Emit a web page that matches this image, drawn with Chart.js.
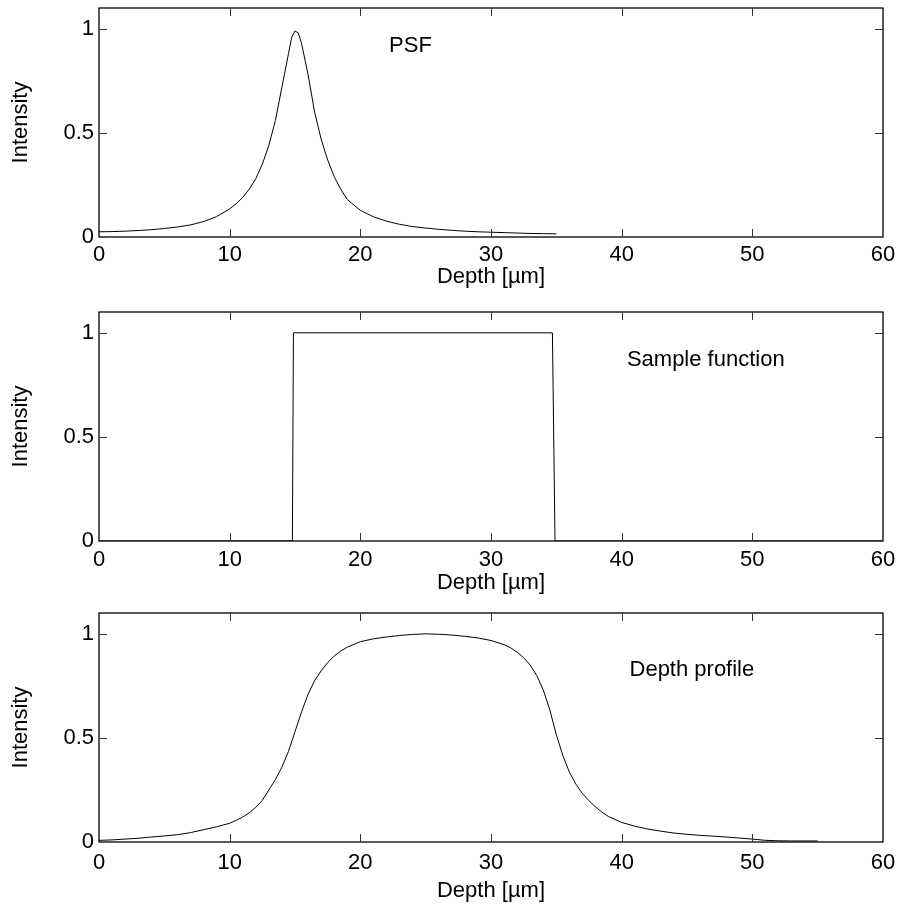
<!DOCTYPE html>
<html>
<head>
<meta charset="utf-8">
<script src="https://cdn.jsdelivr.net/npm/chart.js@4.4.0/dist/chart.umd.min.js"></script>
<style>
  body { margin: 0; background: #fff; }
  #wrap { position: relative; width: 898px; height: 906px; }
  canvas { position: absolute; left: 0; }
</style>
</head>
<body>
<div id="wrap">
  <canvas id="psf" width="898" height="300" style="top:0px"></canvas>
  <canvas id="sample" width="898" height="305" style="top:300px"></canvas>
  <canvas id="profile" width="898" height="301" style="top:605px"></canvas>
</div>
<script>
// tick values / labels shared by all three panels
const xTicks = [0, 10, 20, 30, 40, 50, 60];
const yTicks = [0, 0.5, 1];
const yTickLabels = ["0", "0.5", "1"];

// PSF
const psfDepth = [0, 1, 2, 3, 4, 5, 6, 7, 8, 9, 10, 10.5, 11, 11.5, 12, 12.5, 13, 13.5, 14, 14.5, 14.75, 15, 15.25, 15.5, 16, 16.5, 17, 17.5, 18, 18.5, 19, 20, 21, 22, 23, 24, 25, 26, 27, 28, 29, 30, 31, 32, 33, 34, 35];
const psfIntensity = [0.025, 0.026, 0.028, 0.031, 0.035, 0.041, 0.048, 0.058, 0.074, 0.098, 0.135, 0.16, 0.19, 0.23, 0.28, 0.35, 0.44, 0.56, 0.72, 0.88, 0.96, 0.99, 0.98, 0.93, 0.78, 0.6, 0.47, 0.37, 0.29, 0.23, 0.18, 0.128, 0.097, 0.076, 0.061, 0.05, 0.043, 0.037, 0.032, 0.028, 0.025, 0.023, 0.021, 0.019, 0.017, 0.016, 0.015];

// sample function (box)
const sampleDepth = [0, 14.8, 14.88, 34.7, 34.9, 60];
const sampleIntensity = [0, 0, 1, 1, 0, 0];

// measured depth profile
const profileDepth = [0, 1, 2, 3, 4, 5, 6, 7, 8, 9, 10, 10.5, 11, 11.5, 12, 12.5, 13, 13.5, 14, 14.5, 15, 15.5, 16, 16.5, 17, 17.5, 18, 18.5, 19, 20, 21, 22, 23, 24, 25, 26, 27, 28, 29, 30, 31, 31.5, 32, 32.5, 33, 33.5, 34, 34.5, 35, 35.5, 36, 36.5, 37, 37.5, 38, 38.5, 39, 40, 41, 42, 43, 44, 45, 46, 47, 48, 49, 50, 51, 52, 53, 55];
const profileIntensity = [0.008, 0.01, 0.014, 0.018, 0.024, 0.029, 0.035, 0.045, 0.059, 0.073, 0.09, 0.104, 0.12, 0.14, 0.167, 0.2, 0.25, 0.3, 0.36, 0.435, 0.53, 0.625, 0.71, 0.775, 0.822, 0.862, 0.893, 0.917, 0.936, 0.962, 0.976, 0.985, 0.992, 0.997, 1.0, 0.998, 0.994, 0.988, 0.98, 0.968, 0.948, 0.933, 0.912, 0.885, 0.85, 0.8, 0.73, 0.635, 0.515, 0.415, 0.335, 0.278, 0.232, 0.198, 0.168, 0.143, 0.122, 0.094, 0.076, 0.062, 0.052, 0.043, 0.037, 0.032, 0.028, 0.024, 0.019, 0.014, 0.008, 0.006, 0.005, 0.005];

Chart.defaults.font.family = "'Liberation Sans', Arial, sans-serif";
Chart.defaults.font.size = 22;
Chart.defaults.color = "#000";

// matlab-like box with inward ticks + a text note inside the axes
const boxPlugin = {
    id: "panelBox",
    afterDraw(chart, args, opts) {
        const { ctx, chartArea: a, scales } = chart;
        ctx.save();
        ctx.strokeStyle = "#000";
        ctx.lineWidth = 1.3;
        ctx.strokeRect(a.left, a.top, a.right - a.left, a.bottom - a.top);

        ctx.strokeStyle = "#333";
        ctx.lineWidth = 1;
        const tl = 8;
        ctx.beginPath();
        scales.x.ticks.forEach((t) => {
            if (t.value <= scales.x.min || t.value >= scales.x.max) return;
            const px = Math.round(scales.x.getPixelForValue(t.value)) + 0.5;
            ctx.moveTo(px, a.bottom); ctx.lineTo(px, a.bottom - tl);
            ctx.moveTo(px, a.top); ctx.lineTo(px, a.top + tl);
        });
        scales.y.ticks.forEach((t) => {
            if (t.value <= scales.y.min || t.value >= scales.y.max) return;
            const py = Math.round(scales.y.getPixelForValue(t.value)) + 0.5;
            ctx.moveTo(a.left, py); ctx.lineTo(a.left + tl, py);
            ctx.moveTo(a.right, py); ctx.lineTo(a.right - tl, py);
        });
        ctx.stroke();

        if (opts.text) {
            ctx.fillStyle = "#000";
            ctx.font = "22px 'Liberation Sans', Arial, sans-serif";
            ctx.textAlign = "left";
            ctx.textBaseline = "middle";
            ctx.fillText(opts.text, scales.x.getPixelForValue(opts.x), scales.y.getPixelForValue(opts.y));
        }
        ctx.restore();
    },
};

function noPad(s) {
    s.paddingTop = 0;
    s.paddingBottom = 0;
    s.paddingLeft = 0;
    s.paddingRight = 0;
}

function makePanel(id, xs, ys, note, layout) {
    const canvas = document.getElementById(id);
    const points = xs.map((x, i) => ({ x: x, y: ys[i] }));
    return new Chart(canvas.getContext("2d"), {
        type: "line",
        data: {
            datasets: [
                {
                    data: points,
                    borderColor: "#000",
                    borderWidth: 1,
                    pointRadius: 0,
                    tension: 0,
                    fill: false,
                },
            ],
        },
        options: {
            responsive: false,
            animation: false,
            events: [],
            layout: { padding: { left: 0, right: 15, top: layout.top, bottom: 0 } },
            plugins: {
                legend: { display: false },
                tooltip: { enabled: false },
                panelBox: note,
            },
            scales: {
                x: {
                    type: "linear",
                    min: 0,
                    max: 60,
                    grid: { display: false, drawTicks: false },
                    border: { display: false },
                    afterBuildTicks: (s) => { s.ticks = xTicks.map((v) => ({ value: v })); },
                    afterFit: (s) => { s.height = canvas.height - layout.bottom; noPad(s); },
                    ticks: { padding: layout.tickPad, maxRotation: 0, autoSkip: false },
                    title: {
                        display: true,
                        text: "Depth [µm]",
                        padding: { top: 0, bottom: layout.titlePad },
                    },
                },
                y: {
                    min: 0,
                    max: 1.1,
                    grid: { display: false, drawTicks: false },
                    border: { display: false },
                    afterBuildTicks: (s) => { s.ticks = yTicks.map((v) => ({ value: v })); },
                    afterFit: (s) => { s.width = 99; noPad(s); },
                    ticks: {
                        padding: 5,
                        callback: (v) => yTickLabels[yTicks.indexOf(v)],
                    },
                    title: {
                        display: true,
                        text: "Intensity",
                        padding: { top: 8, bottom: 0 },
                    },
                },
            },
        },
        plugins: [boxPlugin],
    });
}

makePanel("psf", psfDepth, psfIntensity,
    { text: "PSF", x: 22.2, y: 0.92 },
    { top: 8, bottom: 237, tickPad: 5, titlePad: 10 });
makePanel("sample", sampleDepth, sampleIntensity,
    { text: "Sample function", x: 40.4, y: 0.87 },
    { top: 12, bottom: 241, tickPad: 6, titlePad: 9 });
makePanel("profile", profileDepth, profileIntensity,
    { text: "Depth profile", x: 40.6, y: 0.825 },
    { top: 8, bottom: 237, tickPad: 8, titlePad: 2 });
</script>
</body>
</html>
